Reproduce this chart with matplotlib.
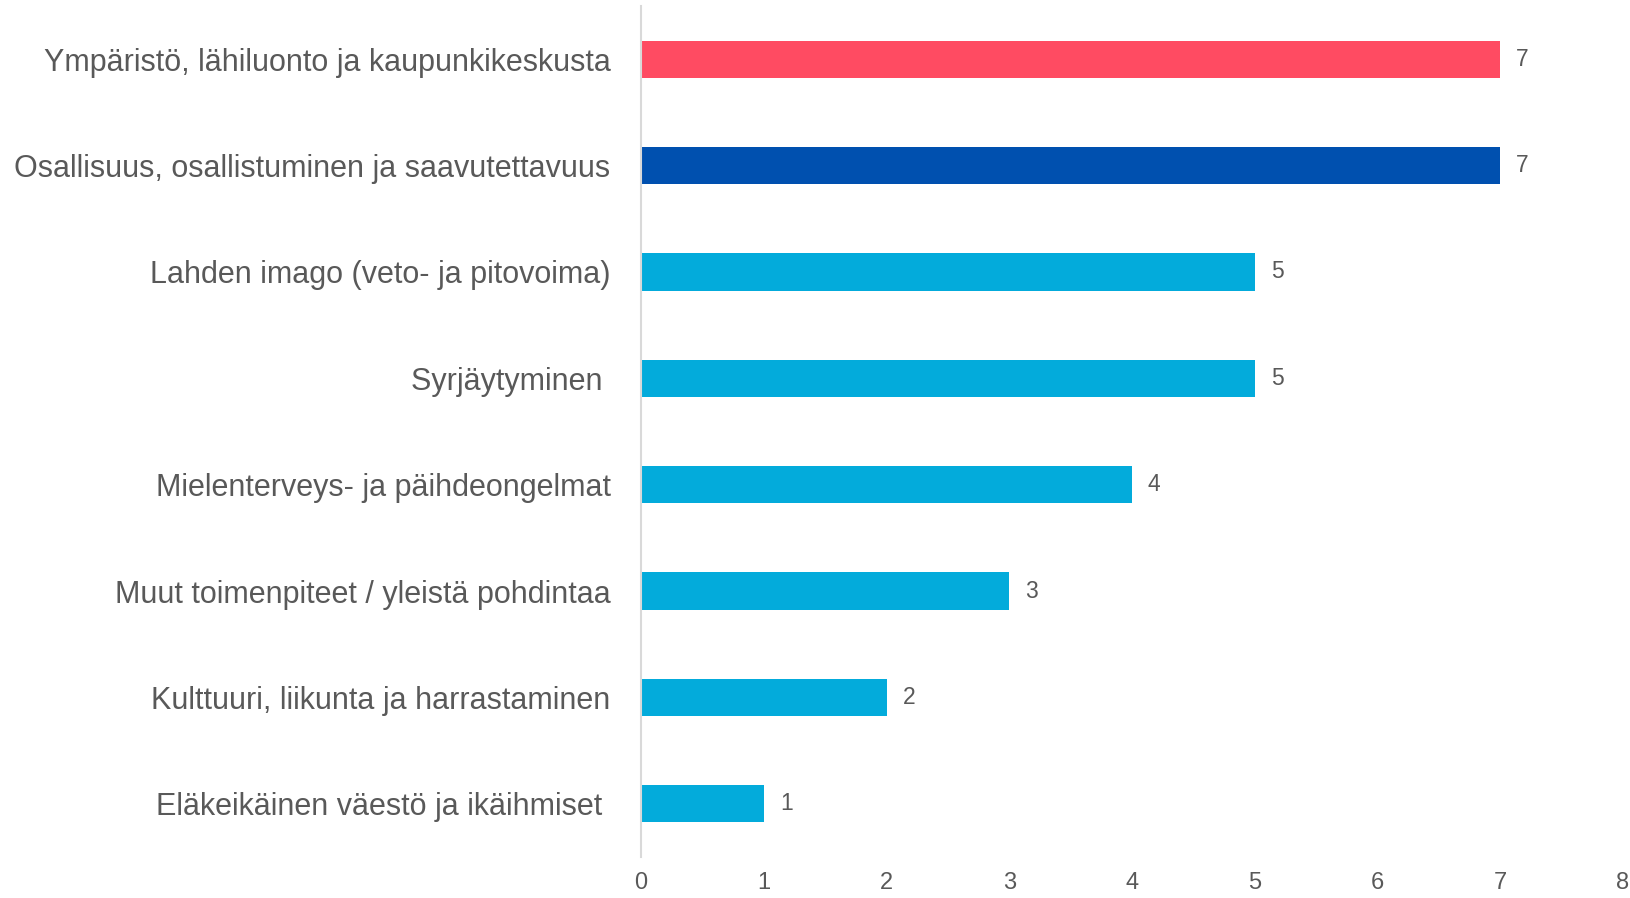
import matplotlib
matplotlib.use("Agg")
import matplotlib.pyplot as plt

# Category labels (top to bottom) and counts
categories = [
    "Ympäristö, lähiluonto ja kaupunkikeskusta",
    "Osallisuus, osallistuminen ja saavutettavuus",
    "Lahden imago (veto- ja pitovoima)",
    "Syrjäytyminen ",
    "Mielenterveys- ja päihdeongelmat",
    "Muut toimenpiteet / yleistä pohdintaa",
    "Kulttuuri, liikunta ja harrastaminen",
    "Eläkeikäinen väestö ja ikäihmiset ",
]
values = [7, 7, 5, 5, 4, 3, 2, 1]
bar_colors = ["#FF4B62", "#0050AF", "#03ABDB", "#03ABDB",
              "#03ABDB", "#03ABDB", "#03ABDB", "#03ABDB"]

plt.rcParams["font.family"] = ["Liberation Sans", "DejaVu Sans"]

text_color = "#595959"

fig = plt.figure(figsize=(16.3, 8.98), dpi=100)
ax = fig.add_axes([0.3933, 0.0457, 0.6024, 0.9476])

y = list(range(len(categories)))
ax.barh(y, values, height=0.35, color=bar_colors)

for yi, v in zip(y, values):
    ax.text(v + 0.13, yi, str(v), va="center", ha="left",
            fontsize=16.5, color=text_color)

ax.set_ylim(len(categories) - 0.5, -0.5)
ax.set_xlim(0, 8)
ax.set_yticks(y)
ax.set_yticklabels(categories, fontsize=22, color=text_color)
ax.set_xticks(range(0, 9))
ax.tick_params(axis="y", length=0, pad=22)
ax.tick_params(axis="x", length=0, pad=11, labelsize=17, labelcolor=text_color)

for side in ["top", "right", "bottom"]:
    ax.spines[side].set_visible(False)
ax.spines["left"].set_color("#D9D9D9")
ax.spines["left"].set_linewidth(1.5)

fig.savefig("out.png", dpi=100)
